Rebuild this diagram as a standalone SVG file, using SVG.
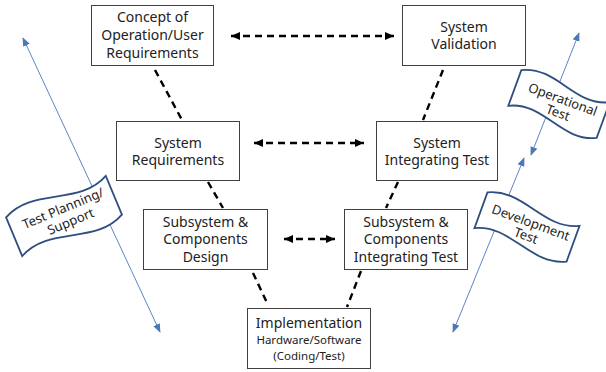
<svg xmlns="http://www.w3.org/2000/svg" width="606" height="372" viewBox="0 0 606 372">
<style>
.box{fill:#fff;stroke:#404040;stroke-width:1}
.t{font-family:"Noto Sans","Open Sans",sans-serif;font-size:14px;fill:#222;text-anchor:middle}
.s{font-size:11.5px}
.dash{fill:none;stroke:#000;stroke-width:2.4;stroke-dasharray:7,5}
.blue{fill:none;stroke:#5b86c4;stroke-width:1}
.flag{fill:#fff;stroke:#2f4f7f;stroke-width:1.8}
.ft{font-family:"Noto Sans","Open Sans",sans-serif;font-size:13px;fill:#222;text-anchor:middle}
</style>
<defs>
<marker id="ah" markerUnits="userSpaceOnUse" markerWidth="10" markerHeight="10" viewBox="0 0 10 10" refX="9" refY="5" orient="auto-start-reverse">
<path d="M0,1 L9,5 L0,9 Z" fill="#000"/>
</marker>
<marker id="bh" markerUnits="userSpaceOnUse" markerWidth="9" markerHeight="9" viewBox="0 0 10 10" refX="9" refY="5" orient="auto-start-reverse">
<path d="M0,1 L10,5 L0,9 Z" fill="#4a78b8"/>
</marker>
</defs>
<g id="connectors">
<line class="dash" x1="231" y1="36" x2="394" y2="36" marker-start="url(#ah)" marker-end="url(#ah)"/>
<line class="dash" x1="254" y1="143" x2="364" y2="143" marker-start="url(#ah)" marker-end="url(#ah)"/>
<line class="dash" x1="284" y1="239" x2="335" y2="239" marker-start="url(#ah)" marker-end="url(#ah)"/>
<line class="dash" x1="155" y1="70" x2="182" y2="120"/>
<line class="dash" x1="208" y1="182" x2="223" y2="208"/>
<line class="dash" x1="253" y1="273" x2="268" y2="305"/>
<line class="dash" x1="443" y1="70" x2="423" y2="120"/>
<line class="dash" x1="398" y1="182" x2="386" y2="208"/>
<line class="dash" x1="361" y1="271" x2="347" y2="307"/>
<line class="blue" x1="23" y1="38" x2="160" y2="332" marker-start="url(#bh)" marker-end="url(#bh)"/>
<line class="blue" x1="579" y1="33" x2="531" y2="155" marker-start="url(#bh)" marker-end="url(#bh)"/>
<line class="blue" x1="524" y1="158" x2="453" y2="332" marker-start="url(#bh)" marker-end="url(#bh)"/>
</g>
<g id="n-concept">
<rect class="box" x="91.5" y="5.5" width="122" height="60"/>
<text class="t" x="152.5" y="22">Concept of</text>
<text class="t" x="152.5" y="40">Operation/User</text>
<text class="t" x="152.5" y="58">Requirements</text>
</g>
<g id="n-validation">
<rect class="box" x="402.5" y="5.5" width="123" height="60"/>
<text class="t" x="464" y="32">System</text>
<text class="t" x="464" y="49">Validation</text>
</g>
<g id="n-sysreq">
<rect class="box" x="116.5" y="121.5" width="123" height="59"/>
<text class="t" x="178" y="148">System</text>
<text class="t" x="178" y="165">Requirements</text>
</g>
<g id="n-sysint">
<rect class="box" x="376.5" y="121.5" width="121" height="59"/>
<text class="t" x="437" y="148">System</text>
<text class="t" x="437" y="165">Integrating Test</text>
</g>
<g id="n-subdesign">
<rect class="box" x="143.5" y="209.5" width="124" height="60"/>
<text class="t" x="205.5" y="227">Subsystem &amp;</text>
<text class="t" x="205.5" y="244">Components</text>
<text class="t" x="205.5" y="262">Design</text>
</g>
<g id="n-subint">
<rect class="box" x="344.5" y="209.5" width="123" height="60"/>
<text class="t" x="406" y="227">Subsystem &amp;</text>
<text class="t" x="406" y="244">Components</text>
<text class="t" x="406" y="262">Integrating Test</text>
</g>
<g id="n-impl">
<rect class="box" x="247.5" y="308.5" width="123" height="60"/>
<text class="t" x="309" y="328">Implementation</text>
<text class="t s" x="309" y="344">Hardware/Software</text>
<text class="t s" x="309" y="360">(Coding/Test)</text>
</g>
<g id="f-testplanning" transform="translate(64,216) rotate(-22.6)">
<path class="flag" d="M-54,-21 C-18,-39 18,-3 54,-21 L54,21 C18,39 -18,3 -54,21 Z"/>
<text class="ft" x="2" y="-3">Test Planning/</text>
<text class="ft" x="4" y="12">Support</text>
</g>
<g id="f-operational" transform="translate(559,104) rotate(20)">
<path class="flag" d="M-47,-19 C-15,-35 15,-3 47,-19 L47,19 C15,35 -15,3 -47,19 Z"/>
<text class="ft" x="2" y="-1">Operational</text>
<text class="ft" x="2" y="13">Test</text>
</g>
<g id="f-development" transform="translate(527,227) rotate(20)">
<path class="flag" d="M-49,-19 C-16,-35 16,-3 49,-19 L49,19 C16,35 -16,3 -49,19 Z"/>
<text class="ft" x="2" y="-1">Development</text>
<text class="ft" x="2" y="13">Test</text>
</g>
</svg>
